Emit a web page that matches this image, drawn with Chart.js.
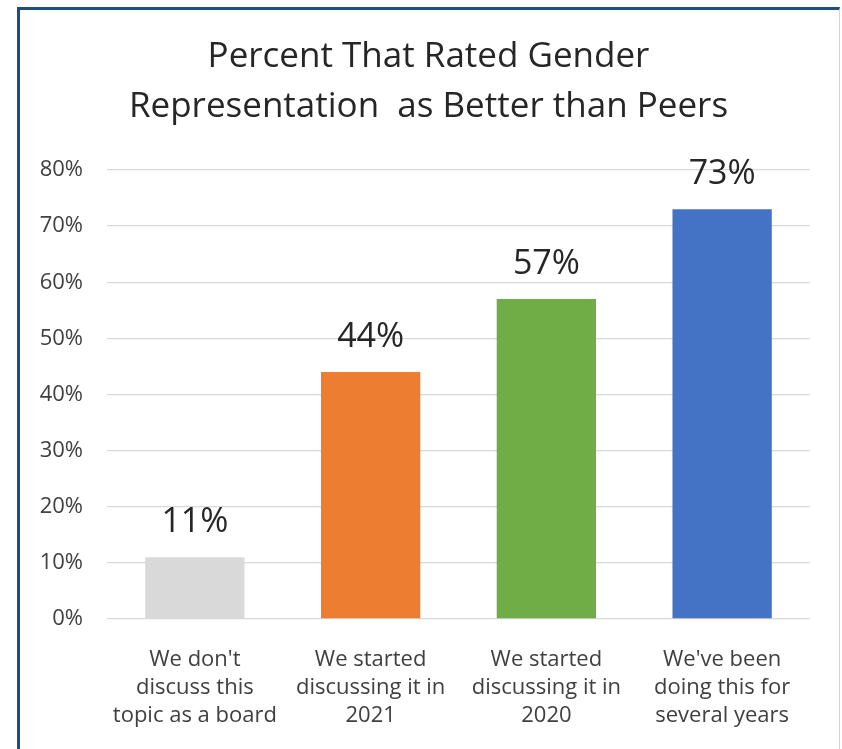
<!DOCTYPE html>
<html>
<head>
<meta charset="utf-8">
<script src="https://cdn.jsdelivr.net/npm/chart.js@4.4.1/dist/chart.umd.min.js"></script>
<style>
    html, body { margin: 0; padding: 0; background: #fff; }
    #wrap { position: relative; width: 842px; height: 749px; overflow: hidden; }
    #frame {
        position: absolute; left: 17px; top: 7px; width: 819px; height: 800px;
        border-left: 3px solid #1b4f82; border-top: 3px solid #1b4f82;
        border-right: 1px solid #d4d4d4; pointer-events: none;
    }
    #chart { position: absolute; left: 0; top: 0; }
</style>
</head>
<body>
<div id="wrap">
    <div id="frame"></div>
    <canvas id="chart" width="842" height="749"></canvas>
</div>
<script>
// Survey answers and the share of each group rating itself better than peers
const categories = [
    ["We don't", 'discuss this', 'topic as a board'],
    ['We started', 'discussing it in', '2021'],
    ['We started', 'discussing it in', '2020'],
    ["We've been", 'doing this for', 'several years']
];
const percentValues = [11, 44, 57, 73];
const barColors = ['#d9d9d9', '#ed7d31', '#70ad47', '#4472c4'];
const yTicks = [0, 10, 20, 30, 40, 50, 60, 70, 80];

const FONT = "'Open Sans', 'DejaVu Sans', sans-serif";

// Value labels above each bar
const valueLabels = {
    id: 'valueLabels',
    afterDatasetsDraw(chart) {
        const ctx = chart.ctx;
        const meta = chart.getDatasetMeta(0);
        ctx.save();
        ctx.font = '34px ' + FONT;
        ctx.fillStyle = '#262626';
        ctx.textAlign = 'center';
        ctx.textBaseline = 'alphabetic';
        meta.data.forEach((bar, i) => {
            ctx.fillText(percentValues[i] + '%', bar.x, bar.y - 25);
        });
        ctx.restore();
    }
};

const ctx = document.getElementById('chart').getContext('2d');
new Chart(ctx, {
    type: 'bar',
    data: {
        labels: categories,
        datasets: [{
            data: percentValues,
            backgroundColor: barColors,
            borderWidth: 0,
            barPercentage: 0.565,
            categoryPercentage: 1
        }]
    },
    options: {
        responsive: false,
        animation: false,
        layout: { padding: { left: 17, right: 2, top: 0, bottom: 0 } },
        plugins: {
            legend: { display: false },
            tooltip: { enabled: false },
            title: {
                display: true,
                text: ['Percent That Rated Gender', 'Representation  as Better than Peers'],
                color: '#262626',
                font: { family: FONT, size: 35, weight: 'normal', lineHeight: 50 / 35 },
                padding: { top: 32, bottom: 38 }
            }
        },
        scales: {
            x: {
                grid: { display: false },
                border: { display: false },
                ticks: {
                    color: '#404040',
                    font: { family: FONT, size: 22, lineHeight: 28 / 22 },
                    padding: 19,
                    maxRotation: 0,
                    autoSkip: false
                },
                afterFit(scale) { scale.height = 130; }
            },
            y: {
                min: 0,
                max: 80,
                afterBuildTicks(scale) { scale.ticks = yTicks.map(v => ({ value: v })); },
                grid: { color: '#d9d9d9', lineWidth: 1.3, drawTicks: false },
                border: { display: false },
                ticks: {
                    color: '#404040',
                    font: { family: FONT, size: 22 },
                    padding: 24,
                    callback: v => v + '%'
                },
                afterFit(scale) { scale.width = 90; }
            },
            // empty right-hand gutter so the plot ends short of the frame
            gutter: {
                position: 'right',
                grid: { display: false },
                border: { display: false },
                ticks: { display: false },
                afterFit(scale) { scale.width = 30; }
            }
        }
    },
    plugins: [valueLabels]
});
</script>
</body>
</html>
